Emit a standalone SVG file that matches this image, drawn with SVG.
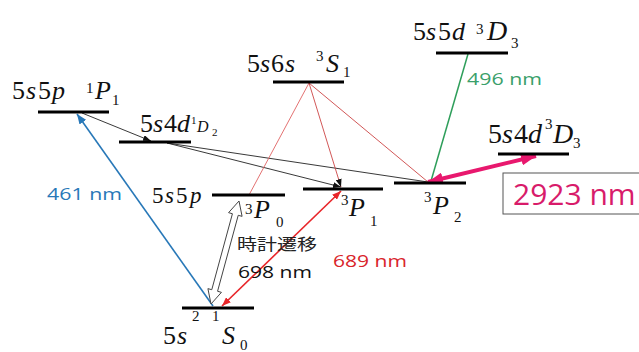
<svg xmlns="http://www.w3.org/2000/svg" width="639" height="352" viewBox="0 0 639 352">
<style>
.lv{stroke:#000;stroke-width:3;fill:none}
.t{font-family:"Liberation Serif","Times New Roman",serif;font-size:26px;fill:#111}
.i{font-style:italic}
.s{font-size:15px}
.nm{font-family:"Open Sans","Liberation Sans",sans-serif;font-size:17px}
.thin{stroke-width:0.9;fill:none}
</style>
<defs>
<marker id="aK" markerUnits="userSpaceOnUse" markerWidth="8" markerHeight="6" refX="8" refY="3" orient="auto"><path d="M0,0 L8,3 L0,6 z" fill="#111"/></marker>
<marker id="aB" markerUnits="userSpaceOnUse" markerWidth="10" markerHeight="8" refX="10" refY="4" orient="auto"><path d="M0,0 L10,4 L0,8 z" fill="#2878b8"/></marker>
<marker id="aR" markerUnits="userSpaceOnUse" markerWidth="9" markerHeight="7" refX="9" refY="3.5" orient="auto-start-reverse"><path d="M0,0 L9,3.5 L0,7 z" fill="#e8262a"/></marker>
<marker id="aM" markerUnits="userSpaceOnUse" markerWidth="15" markerHeight="12" refX="15" refY="6" orient="auto-start-reverse"><path d="M0,0 L15,6 L0,12 z" fill="#e8186e"/></marker>
</defs>
<rect width="639" height="352" fill="#fff"/>

<g id="connectors">
<line x1="82" y1="113" x2="151" y2="141" stroke="#222" class="thin" marker-end="url(#aK)"/>
<line x1="167" y1="143" x2="341" y2="187" stroke="#222" class="thin" marker-end="url(#aK)"/>
<line x1="167" y1="143" x2="428" y2="182" stroke="#222" class="thin"/>
<line x1="309" y1="83" x2="249" y2="195" stroke="#e06262" class="thin"/>
<line x1="309" y1="83" x2="341" y2="187" stroke="#cc4444" class="thin" marker-end="url(#aK)"/>
<line x1="309" y1="83" x2="428" y2="182" stroke="#cc4444" class="thin"/>
<line x1="468" y1="54" x2="431" y2="181" stroke="#2e9e5a" stroke-width="1.5"/>
<line x1="213" y1="306" x2="77" y2="114" stroke="#2878b8" stroke-width="1.6" marker-end="url(#aB)"/>
<line x1="222" y1="306" x2="341" y2="191" stroke="#e8262a" stroke-width="1.6" marker-start="url(#aR)" marker-end="url(#aR)"/>
<polygon points="239,201 242.09,216.35 238.23,215.3 217.57,291.28 221.43,292.33 211,304 207.91,288.65 211.77,289.7 232.43,213.72 228.57,212.67" fill="#fff" stroke="#444" stroke-width="1"/>
<line x1="428" y1="182" x2="536" y2="156" stroke="#e8186e" stroke-width="4" marker-start="url(#aM)" marker-end="url(#aM)"/>
</g>

<g id="n1P1">
<line class="lv" x1="38" y1="112" x2="109" y2="112"/>
<text class="t"><tspan x="12" y="99">5</tspan><tspan x="26" y="99" class="i">s</tspan><tspan x="38" y="99">5</tspan><tspan x="52" y="99" class="i">p</tspan><tspan x="86" y="93" class="s">1</tspan><tspan x="95" y="99" class="i">P</tspan><tspan x="112" y="105" class="s">1</tspan></text>
</g>

<g id="n1D2">
<line class="lv" x1="119" y1="142" x2="191" y2="142"/>
<text class="t"><tspan x="140" y="132">5</tspan><tspan x="153" y="132" class="i">s</tspan><tspan x="164" y="132">4</tspan><tspan x="177" y="132" class="i">d</tspan><tspan x="191" y="124" style="font-size:11px">1</tspan><tspan x="197" y="132" class="i" style="font-size:16px">D</tspan><tspan x="212" y="136" style="font-size:11px">2</tspan></text>
</g>

<g id="n3S1">
<line class="lv" x1="273" y1="82" x2="344" y2="82"/>
<text class="t"><tspan x="247" y="72">5</tspan><tspan x="260" y="72" class="i">s</tspan><tspan x="271" y="72">6</tspan><tspan x="285" y="72" class="i">s</tspan><tspan x="316" y="61" class="s">3</tspan><tspan x="326" y="72" class="i">S</tspan><tspan x="343" y="77" class="s">1</tspan></text>
</g>

<g id="n5D3">
<line class="lv" x1="436" y1="53" x2="508" y2="53"/>
<text class="t"><tspan x="413" y="40">5</tspan><tspan x="426" y="40" class="i">s</tspan><tspan x="438" y="40">5</tspan><tspan x="452" y="40" class="i">d</tspan><tspan x="476" y="34" class="s">3</tspan><tspan x="487" y="40" class="i" style="font-size:28px">D</tspan><tspan x="511" y="48" class="s">3</tspan></text>
<text class="nm" x="467" y="85" fill="#3aa06a" textLength="75" lengthAdjust="spacingAndGlyphs">496 nm</text>
</g>

<g id="n4D3">
<line class="lv" x1="498" y1="154" x2="569" y2="154"/>
<text class="t" style="font-size:28px"><tspan x="488" y="143">5</tspan><tspan x="502" y="143" class="i">s</tspan><tspan x="514" y="143">4</tspan><tspan x="528" y="143" class="i">d</tspan><tspan x="545" y="129" class="s">3</tspan><tspan x="553" y="143" class="i">D</tspan><tspan x="573" y="148" class="s">3</tspan></text>
<rect x="503" y="173" width="140" height="41" fill="#fff" stroke="#555" stroke-width="1"/>
<text x="513" y="205" font-family="'Open Sans','Liberation Sans',sans-serif" font-size="30" fill="#d81b6a">2923 nm</text>
</g>

<g id="n3P2">
<line class="lv" x1="394" y1="183" x2="466" y2="183"/>
<text class="t"><tspan x="424" y="202" class="s">3</tspan><tspan x="433" y="214" class="i">P</tspan><tspan x="454" y="222" class="s">2</tspan></text>
</g>

<g id="n3P1">
<line class="lv" x1="303" y1="189" x2="383" y2="189"/>
<text class="t"><tspan x="341" y="205" class="s">3</tspan><tspan x="349" y="216" class="i">P</tspan><tspan x="370" y="226" class="s">1</tspan></text>
<text class="nm" x="333" y="267" fill="#d9252b" textLength="74" lengthAdjust="spacingAndGlyphs">689 nm</text>
</g>

<g id="n3P0">
<line class="lv" x1="212" y1="195" x2="285" y2="195"/>
<text class="t" style="font-size:23px"><tspan x="152" y="203">5</tspan><tspan x="165" y="203" class="i">s</tspan><tspan x="176" y="203">5</tspan><tspan x="190" y="203" class="i">p</tspan></text>
<text class="t"><tspan x="245" y="214" class="s">3</tspan><tspan x="254" y="218" class="i">P</tspan><tspan x="276" y="227" class="s">0</tspan></text>
<text x="237" y="250" font-family="'Noto Sans CJK JP',sans-serif" font-size="16" fill="#222" textLength="80" lengthAdjust="spacingAndGlyphs">時計遷移</text>
<text class="nm" x="238" y="278" fill="#111" textLength="74" lengthAdjust="spacingAndGlyphs">698 nm</text>
</g>

<g id="n1S0">
<line class="lv" x1="182" y1="308" x2="254" y2="308"/>
<text class="t"><tspan x="163" y="344">5</tspan><tspan x="177" y="344" class="i">s</tspan><tspan x="192" y="321" class="s">2</tspan><tspan x="212" y="321" class="s">1</tspan><tspan x="222" y="344" class="i">S</tspan><tspan x="240" y="350" class="s">0</tspan></text>
<text class="nm" x="47" y="200" fill="#2878b8" textLength="75" lengthAdjust="spacingAndGlyphs">461 nm</text>
</g>
</svg>
